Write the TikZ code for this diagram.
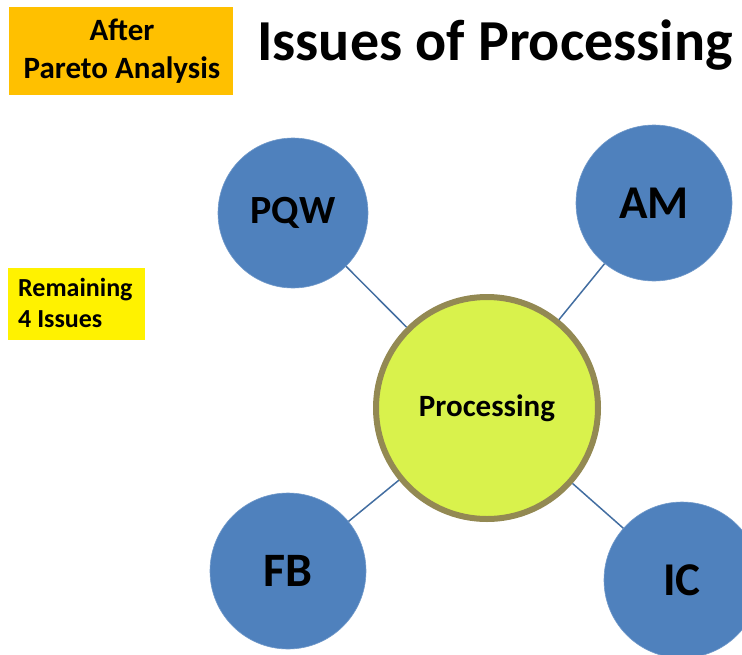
\documentclass[tikz,border=0pt]{standalone}
\usepackage{fontspec}
\setmainfont{Carlito}
\usetikzlibrary{positioning,calc}
\definecolor{issueblue}{HTML}{4F81BD}
\definecolor{hubfill}{HTML}{D9F24C}
\definecolor{hubrim}{HTML}{938953}
\definecolor{tagorange}{HTML}{FFC000}
\tikzset{
  issue/.style={circle,fill=issueblue,draw=issueblue!80!white,line width=.6pt,inner sep=0pt,font=\bfseries},
  link/.style={draw=issueblue!85!black,line width=1.5pt},
}
\newcommand*{\fs}[1]{\fontsize{#1}{1.22\dimexpr#1\relax}\selectfont}

\begin{document}
\begin{tikzpicture}[x=1pt,y=-1pt]
\useasboundingbox (0,0) rectangle (742,654);
% labels at the top and left
\fill[tagorange] (9,7) rectangle (233,95);
\node[align=center,font=\bfseries\fs{31pt}] (after) at (122,51) {After\\Pareto Analysis};
\node[anchor=west,inner sep=0pt,font=\bfseries\fs{58pt}] (title) at (257,45) {Issues of Processing};
\fill[yellow] (8,268) rectangle (145,340);
\node[anchor=west,align=left,inner sep=0pt,font=\bfseries\fs{26pt}] (remain) at (18,303) {Remaining\\4 Issues};
% hub and issues
\node[circle,fill=hubfill,draw=hubrim,line width=6pt,minimum size=222pt,font=\bfseries\fs{31pt}] (hub) at (487,408) {Processing};
\node[issue,minimum size=150pt,font=\bfseries\fs{40pt}] (pqw) at (293,213) {PQW};
\node[issue,minimum size=156pt,font=\bfseries\fs{47pt}] (am) at (654,203) {AM};
\node[issue,minimum size=156pt,font=\bfseries\fs{48pt}] (fb) at (288,571) {FB};
\node[issue,minimum size=156pt,font=\bfseries\fs{47pt}] (ic) at (682,580) {IC};
\foreach \n in {pqw,am,fb,ic}
  \draw[link] (\n) -- (hub);
\end{tikzpicture}
\end{document}
